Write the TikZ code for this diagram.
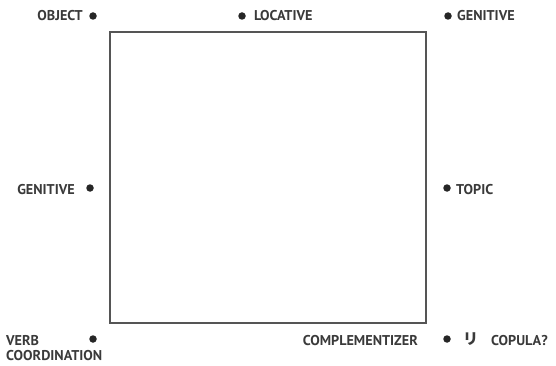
\documentclass[tikz,border=0pt]{standalone}
\usepackage{fontspec}
\setmainfont{PT Sans}
\newfontfamily\cjkfont{Noto Sans CJK JP}
\definecolor{txt}{HTML}{3A3A3A}
\definecolor{boxc}{HTML}{555555}
\begin{document}
\begin{tikzpicture}[x=1pt,y=-1pt,
  dotm/.style={circle,fill=black!85,inner sep=0pt,minimum size=7.5pt},
  lab/.style={inner sep=0pt,text=txt,font=\bfseries\fontsize{14.2}{16}\selectfont},
]
\useasboundingbox (0,0) rectangle (556,366);
\draw[boxc,line width=1.6pt] (110,32) rectangle (426,323);
\node[dotm] (d1) at (93,16) {};
\node[dotm] (d2) at (242,16) {};
\node[dotm] (d3) at (448,16) {};
\node[dotm] (d4) at (90,188) {};
\node[dotm] (d5) at (447,188) {};
\node[dotm] (d6) at (93,339) {};
\node[dotm] (d7) at (447,339) {};
\node[lab,anchor=base east] (t1) at (83,21) {OBJECT};
\node[lab,anchor=base west] (t2) at (254,21) {LOCATIVE};
\node[lab,anchor=base west] (t3) at (457,21) {GENITIVE};
\node[lab,anchor=base east] (t4) at (75,194) {GENITIVE};
\node[lab,anchor=base west] (t5) at (456,194) {TOPIC};
\node[lab,anchor=base west] (t6) at (6,345) {VERB};
\node[lab,anchor=base west] (t7) at (6,360) {COORDINATION};
\node[lab,anchor=base east] (t8) at (418,345) {COMPLEMENTIZER};
\node[inner sep=0pt,text=txt,font=\cjkfont\bfseries\fontsize{15}{17}\selectfont] (t9) at (470.5,339) {リ};
\node[lab,anchor=base west] (t10) at (491,345) {COPULA?};
\end{tikzpicture}
\end{document}
